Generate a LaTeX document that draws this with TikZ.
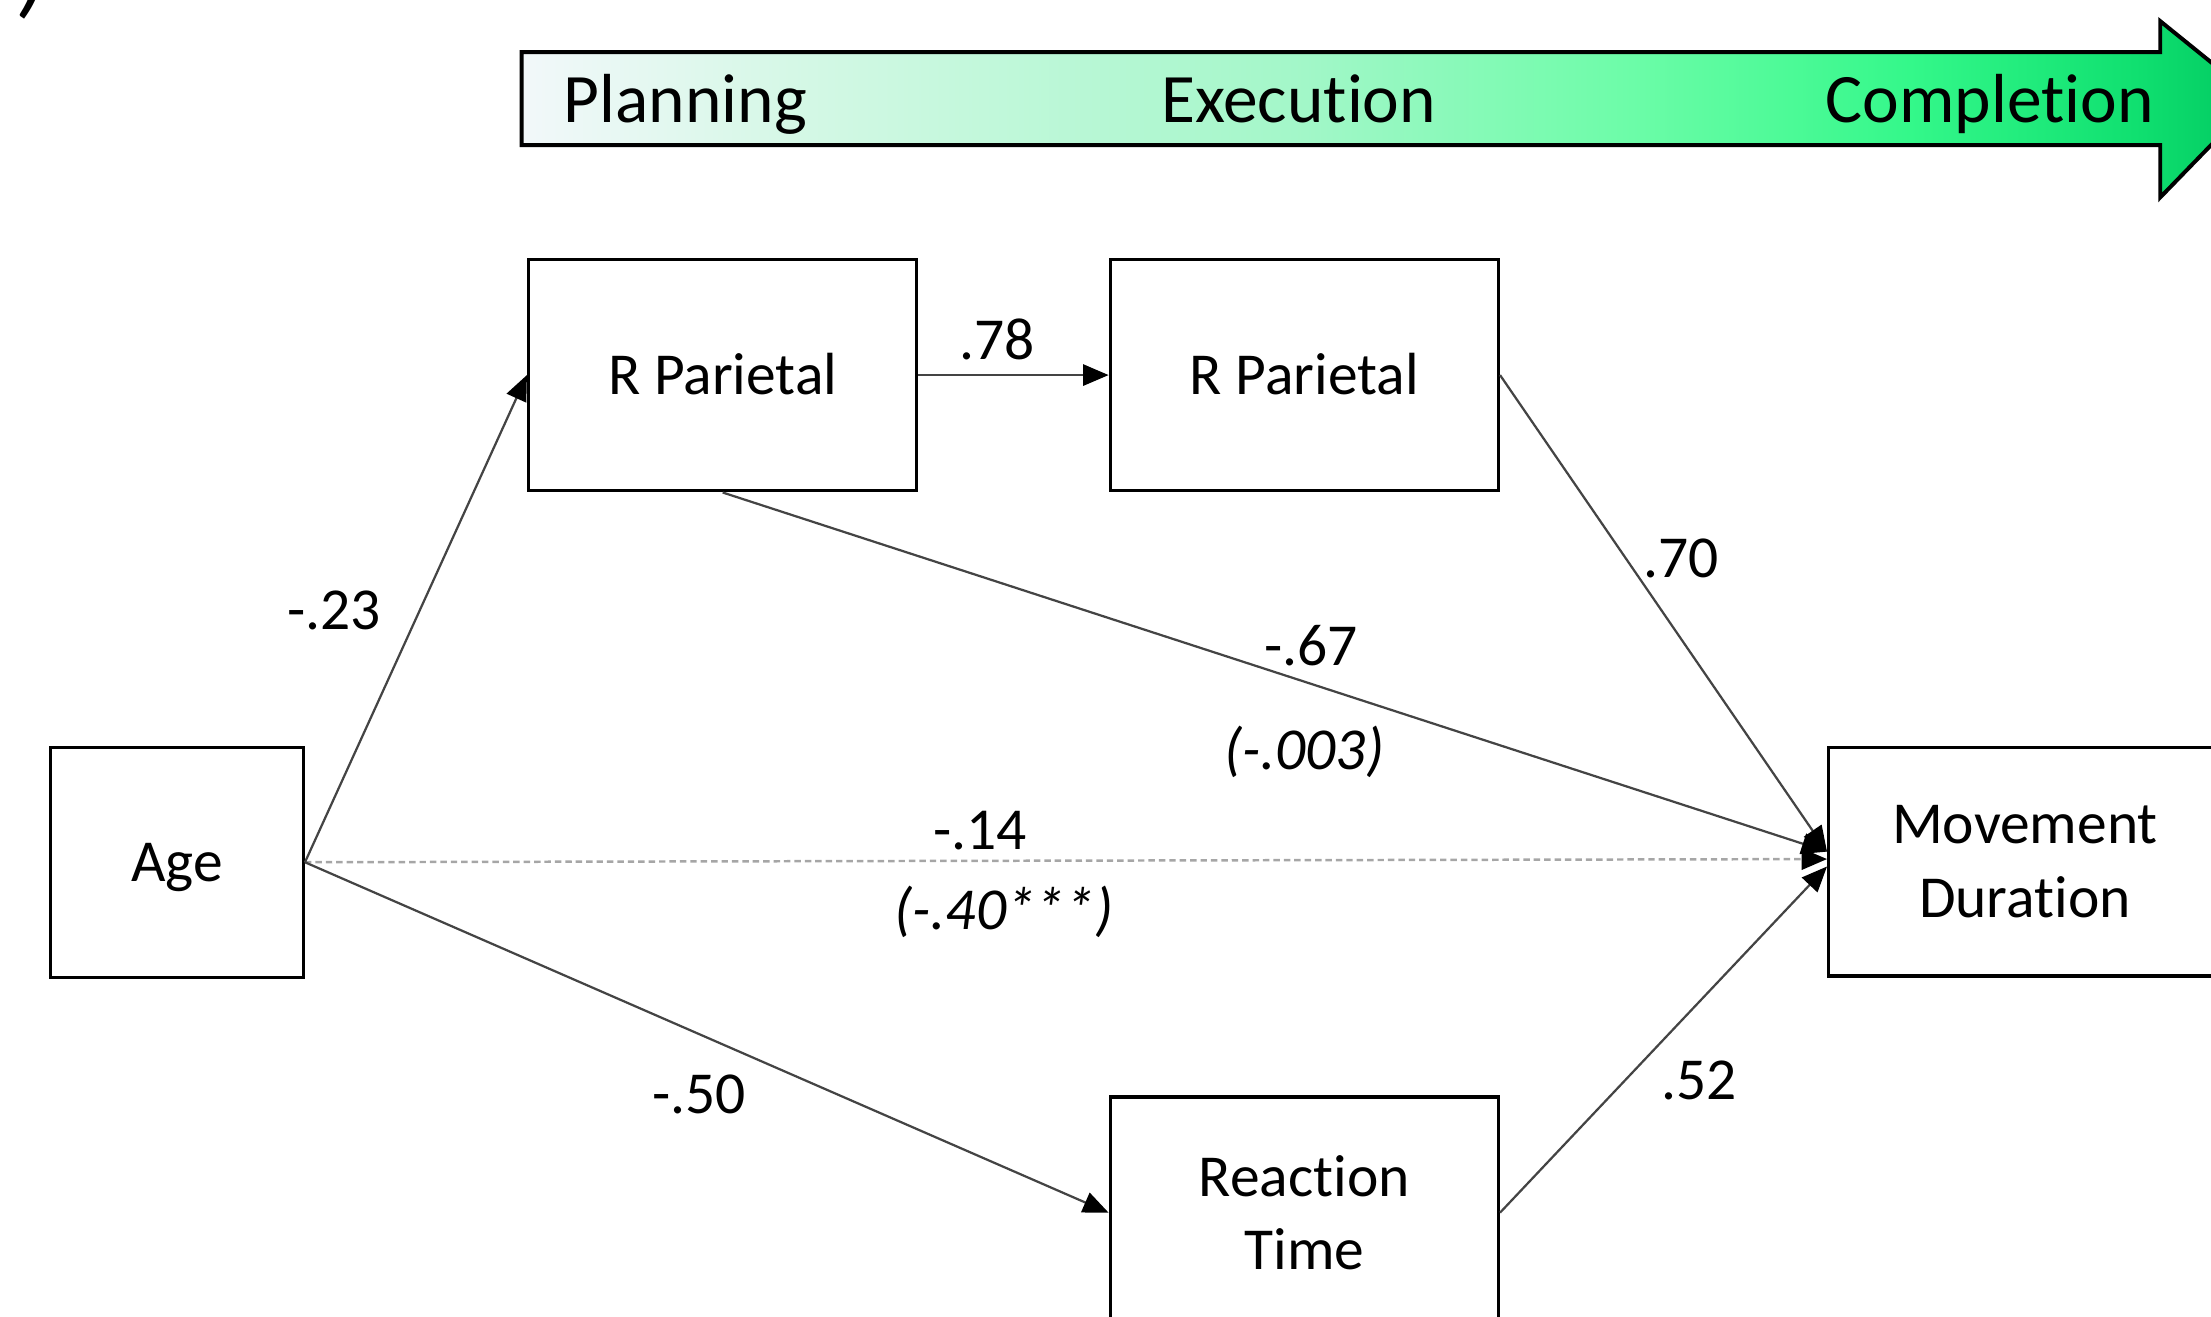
\documentclass[tikz,border=0pt]{standalone}
\usepackage{fontspec}
\setmainfont{Carlito}[Ligatures=NoCommon]
\usetikzlibrary{arrows.meta}
\definecolor{g0}{HTML}{F2F8FA}
\definecolor{g1}{HTML}{D5F8E6}
\definecolor{g2}{HTML}{A2F7C8}
\definecolor{g3}{HTML}{6CFCA8}
\definecolor{g4}{HTML}{34F88A}
\definecolor{g5}{HTML}{10E070}
\definecolor{g6}{HTML}{00C860}
\definecolor{lnc}{HTML}{444444}
\pgfdeclarehorizontalshading{bargrad}{100bp}{color(0bp)=(g0); color(25bp)=(g0); color(32.8bp)=(g1); color(47.6bp)=(g2); color(57bp)=(g3); color(65bp)=(g4); color(71.5bp)=(g5); color(75bp)=(g6); color(100bp)=(g6)}
\begin{document}
\begin{tikzpicture}[x=0.01cm,y=-0.01cm,
  box/.style={draw=black, line width=0.7pt, fill=white, minimum width=2.75cm, minimum height=1.64cm, align=center, inner sep=0pt, font=\fontsize{12}{14.8}\selectfont},
  onel/.style={text height=7.7pt, text depth=0pt},
  conn/.style={draw=lnc, line width=0.45pt, -{Triangle[length=0.18cm,width=0.15cm,fill=black,color=black]}},
  dashconn/.style={draw=black!35, line width=0.5pt, dash pattern=on 1.3pt off 0.8pt, -{Triangle[length=0.18cm,width=0.15cm,fill=black,color=black]}},
  lab/.style={font=\fontsize{12}{14}\selectfont, inner sep=0pt},
  ilab/.style={font=\fontsize{12}{14}\selectfont\itshape, inner sep=0pt},
  bartext/.style={font=\fontsize{14}{16}\selectfont, inner sep=0pt, anchor=base}]
\useasboundingbox (0,0) rectangle (1568,934);
\clip (0,0) rectangle (1568,934);
\node[font=\fontsize{20}{22}\selectfont\itshape, inner sep=0pt, anchor=south] (tag) at (24,14) {)};
% stage bar
\shadedraw[shading=bargrad, draw=black, line width=0.8pt]
  (370,37) -- (1532,37) -- (1532,15) -- (1600,70) -- (1532,140) -- (1532,103) -- (370,103) -- cycle;
\node[bartext] (plan) at (486,87) {Planning};
\node[bartext] (exec) at (921,87) {Execution};
\node[bartext] (comp) at (1411,87) {Completion};
% boxes
\node[box, onel, minimum width=1.79cm, minimum height=1.63cm] (age) at (125.5,611.5) {Age};
\node[box, onel] (rp1) at (512.5,266) {R Parietal};
\node[box, onel] (rp2) at (925,266) {R Parietal};
\node[box, minimum width=2.78cm, minimum height=1.62cm] (md) at (1436,611) {Movement\\Duration};
\node[box] (rt) at (925,860) {Reaction\\Time};
% connectors
\draw[dashconn] (age.east) -- ([yshift=0.5pt]md.west);
\draw[conn] (age.east) -- (rp1.west);
\draw[conn] (rp1.east) -- (rp2.west);
\draw[conn] (rp1.south) -- ([yshift=2pt]md.west);
\draw[conn] (rp2.east) -- ([yshift=2pt]md.west);
\draw[conn] (age.east) -- (rt.west);
\draw[conn] (rt.east) -- ([yshift=-1pt]md.west);
% labels
\node[lab] (l23) at (237,433) {-.23};
\node[lab] (l78) at (707,241) {.78};
\node[lab] (l70) at (1192,396) {.70};
\node[lab] (l67) at (930,458) {-.67};
\node[ilab] (l003) at (925,533) {(-.003)};
\node[lab] (l14) at (695,589) {-.14};
\node[ilab] (l40) at (712,647) {(-.40***)};
\node[lab] (l50) at (496,776) {-.50};
\node[lab] (l52) at (1205,766) {.52};
\end{tikzpicture}
\end{document}
